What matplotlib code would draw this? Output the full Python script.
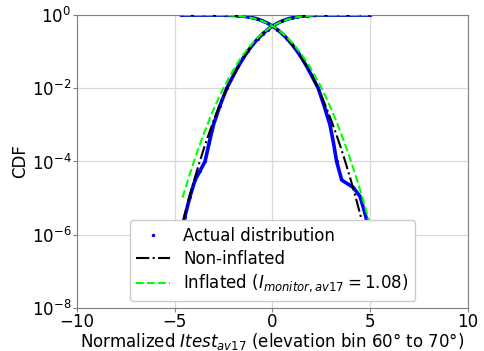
import matplotlib
matplotlib.use("Agg")
import matplotlib.pyplot as plt
from matplotlib.lines import Line2D

# Grid of normalized values
x_grid = [-5.0, -4.6, -4.25, -4.0, -3.75, -3.5, -3.25, -3.0, -2.75, -2.5, -2.25,
          -2.0, -1.75, -1.5, -1.25, -1.0, -0.75, -0.5, -0.25, 0.0, 0.25, 0.5,
          0.75, 1.0, 1.25, 1.5, 1.75, 2.0, 2.25, 2.5, 2.75, 3.0, 3.25, 3.5,
          3.75, 4.0, 4.25, 4.6, 5.0]

# Non-inflated model CDF
cdf_noninfl = [2.8665e-7, 2.1125e-6, 1.0689e-5, 3.1671e-5, 8.8417e-5, 2.3263e-4,
               5.7703e-4, 1.3499e-3, 2.9798e-3, 6.2097e-3, 1.2224e-2, 2.2750e-2,
               4.0059e-2, 6.6807e-2, 0.10565, 0.15866, 0.22663, 0.30854, 0.40129,
               0.5, 0.59871, 0.69146, 0.77337, 0.84134, 0.89435, 0.93319, 0.95994,
               0.97725, 0.98778, 0.99379, 0.99702, 0.99865, 0.99942, 0.99977,
               0.99991, 0.99997, 0.99999, 1.0, 1.0]

# Inflated model CDF (I = 1.08)
cdf_infl = [1.83e-6, 1.03e-5, 4.16e-5, 1.06e-4, 2.58e-4, 5.96e-4, 1.31e-3, 2.74e-3,
            5.44e-3, 1.031e-2, 1.86e-2, 3.20e-2, 5.26e-2, 8.24e-2, 0.1236, 0.1772,
            0.2437, 0.3217, 0.4085, 0.5, 0.5915, 0.6783, 0.7563, 0.8228, 0.8764,
            0.9176, 0.9474, 0.9680, 0.9814, 0.98969, 0.99456, 0.99726, 0.99869,
            0.99940, 0.99974, 0.99989, 0.99996, 0.99999, 1.0]

# Actual distribution (empirical CDF and complementary CDF)
act_cdf_x = [-4.6, -4.48, -4.22, -3.96, -3.7, -3.45, -3.24, -3.02, -2.7, -2.34,
             -2.0, -1.75, -1.5, -1.25, -1.0, -0.75, -0.5, -0.25, 0.0, 0.25, 0.5,
             0.75, 1.0, 1.25, 1.5, 1.75, 2.0, 2.5, 3.0, 4.0, 5.0]
act_cdf_y = [1.3e-6, 3.1e-6, 1.1e-5, 3.1e-5, 5.6e-5, 1.0e-4, 3.2e-4, 1.0e-3,
             3.2e-3, 1.0e-2, 2.24e-2, 3.95e-2, 6.65e-2, 0.105, 0.158, 0.226, 0.308,
             0.401, 0.50, 0.599, 0.692, 0.774, 0.842, 0.895, 0.934, 0.960, 0.978,
             0.994, 0.9988, 1.0, 1.0]
act_sf_x = [-4.65, -4.0, -3.0, -2.5, -2.0, -1.75, -1.5, -1.25, -1.0, -0.75, -0.5,
            -0.25, 0.0, 0.25, 0.5, 0.75, 1.0, 1.25, 1.5, 1.75, 2.0, 2.34, 2.65,
            2.94, 3.12, 3.28, 3.54, 4.13, 4.48, 4.73, 4.95]
act_sf_y = [1.0, 1.0, 0.9988, 0.994, 0.978, 0.960, 0.934, 0.895, 0.842, 0.774,
            0.692, 0.599, 0.50, 0.401, 0.308, 0.226, 0.158, 0.105, 6.65e-2,
            3.95e-2, 2.24e-2, 1.0e-2, 3.2e-3, 1.0e-3, 3.2e-4, 1.0e-4, 3.1e-5,
            1.95e-5, 1.1e-5, 3.8e-6, 1.3e-6]

plt.rcParams['font.family'] = ['DejaVu Sans']
plt.rcParams['font.size'] = 12

fig = plt.figure(figsize=(4.84, 3.51), dpi=100)
ax = fig.add_axes([0.159, 0.123, 0.808, 0.834])

blue = '#0000ff'
ax.plot(act_cdf_x, act_cdf_y, color=blue, lw=2.6, marker='.', ms=2.5, zorder=2)
ax.plot(act_sf_x, act_sf_y, color=blue, lw=2.6, marker='.', ms=2.5, zorder=2)

# Models: CDF drawn for x >= -4.6, complementary via mirror
ax.plot(x_grid[1:], cdf_noninfl[1:], color='black', ls='-.', lw=1.5, zorder=3)
ax.plot([-v for v in x_grid[:-1]], cdf_noninfl[:-1], color='black', ls='-.', lw=1.5, zorder=3)
ax.plot(x_grid[1:], cdf_infl[1:], color='#00ff00', ls='--', lw=1.5, zorder=4)
ax.plot([-v for v in x_grid[:-1]], cdf_infl[:-1], color='#00ff00', ls='--', lw=1.5, zorder=4)

ax.set_yscale('log')
ax.set_xlim(-10, 10)
ax.set_ylim(1e-8, 1)
ax.set_xticks([-10, -5, 0, 5, 10])
ax.set_yticks([1e-8, 1e-6, 1e-4, 1e-2, 1])
ax.minorticks_off()
ax.grid(True, color='#d9d9d9', lw=0.9)
ax.set_axisbelow(True)
for s in ax.spines.values():
    s.set_color('#808080')
ax.tick_params(colors='#808080', labelcolor='black', length=3, labelsize=12, pad=1)

ax.set_xlabel(r"Normalized $Itest_{av17}$ (elevation bin 60° to 70°)", fontsize=12, labelpad=0)
ax.set_ylabel("CDF", fontsize=12, labelpad=2)

handles = [
    Line2D([], [], color=blue, marker='.', ms=3, ls='none'),
    Line2D([], [], color='black', ls='-.', lw=1.5),
    Line2D([], [], color='#00ff00', ls='--', lw=1.5),
]
labels = ["Actual distribution", "Non-inflated",
          r"Inflated ($I_{monitor,av17} = 1.08$)"]
leg = ax.legend(handles, labels, loc='lower center', fontsize=12, framealpha=1,
                borderaxespad=0.4, handlelength=2, labelspacing=0.3)

fig.savefig('out.png', dpi=100)
